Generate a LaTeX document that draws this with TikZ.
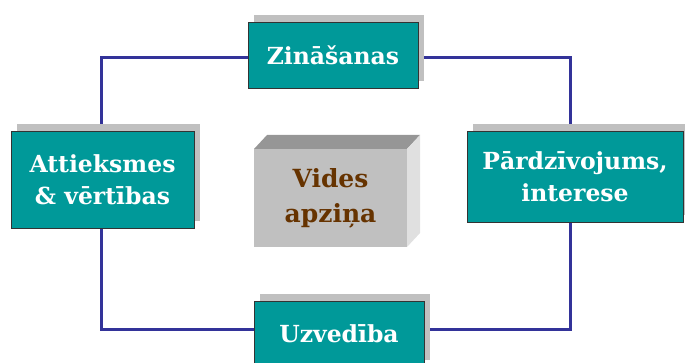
\documentclass[tikz,border=0pt]{standalone}
\usepackage{fontspec}
\setmainfont{DejaVu Serif}
\usepackage{tikz}
\usetikzlibrary{shadows, backgrounds}
\usepackage{xcolor}
\definecolor{tealBox}{HTML}{009999}
\definecolor{loopBlue}{HTML}{333399}
\definecolor{shadowGray}{HTML}{C0C0C0}
\definecolor{textBrown}{HTML}{663300}

\begin{document}
\begin{tikzpicture}[x=1pt, y=-1pt,
    topic/.style={draw=black!80, line width=0.8pt, fill=tealBox, text=white,
        font=\fontsize{23.5}{32}\selectfont\bfseries, align=center, inner sep=0pt,
        drop shadow={shadow xshift=6pt, shadow yshift=7pt, fill=shadowGray, opacity=1}},
    loop/.style={loopBlue, line width=3pt}]
    \clip (0,0) rectangle (685,363);

    % Corners of the loop
    \coordinate (tl) at (101,58);
    \coordinate (tr) at (570,58);
    \coordinate (bl) at (101,329);
    \coordinate (br) at (570,329);

    % Topics
    \node[topic, minimum width=170pt, minimum height=66pt] (zin) at (333,55) {Zināšanas};
    \node[topic, minimum width=183pt, minimum height=97pt] (att) at (102.5,179.5) {Attieksmes\\\& vērtības};
    \node[topic, minimum width=216pt, minimum height=91pt] (par) at (575,176.5) {Pārdzīvojums,\\interese};
    \node[topic, minimum width=170pt, minimum height=66pt] (uzv) at (339,334) {Uzvedība};

    % Loop
    \begin{scope}[on background layer]
        \draw[loop] (zin.west |- tl) -- (tl) -- (att.north -| tl);
        \draw[loop] (att.south -| bl) -- (bl) -- (uzv.west |- bl);
        \draw[loop] (uzv.east |- br) -- (br) -- (par.south -| br);
        \draw[loop] (par.north -| tr) -- (tr) -- (zin.east |- tr);
    \end{scope}

    % Centre block
    \fill[black!41] (254,149) -- (267,135) -- (420,135) -- (407,149) -- cycle;
    \fill[black!12] (407,149) -- (420,135) -- (420,233) -- (407,247) -- cycle;
    \fill[shadowGray] (254,149) rectangle (407,247);
    \node[text=textBrown, font=\fontsize{25}{35}\selectfont\bfseries, align=center] (vid) at (330.5,198) {Vides\\apziņa};
\end{tikzpicture}
\end{document}
